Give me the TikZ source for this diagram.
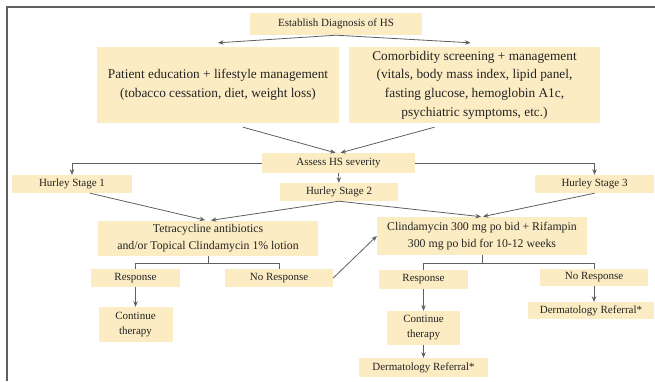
\documentclass[tikz,border=0pt]{standalone}
\usepackage{fontspec}
\setmainfont{Liberation Serif}
\usepackage{tikz}
\usetikzlibrary{arrows.meta}
\definecolor{boxfill}{RGB}{252,236,196}
\definecolor{linegray}{RGB}{95,95,95}
\definecolor{textgray}{RGB}{35,35,35}
\tikzset{
    box/.style={fill=boxfill, inner sep=0pt, align=center, text=textgray,
        font=\fontsize{11}{15}\selectfont},
    bigbox/.style={box, font=\fontsize{13.3}{18.7}\selectfont},
    midbox/.style={box, font=\fontsize{11.8}{17}\selectfont},
    link/.style={draw=linegray, line width=0.8pt},
    arr/.style={link, -{Stealth[length=5.5pt,width=4.5pt]}},
}

\begin{document}
\begin{tikzpicture}[x=1pt,y=-1pt]
\useasboundingbox (0,0) rectangle (655,381);
\draw[linegray, line width=1.2pt] (7,381) -- (7,7) -- (655,7);

\node[box, minimum width=172pt, minimum height=22pt] (diag) at (336,24) {Establish Diagnosis of HS};
\node[bigbox, minimum width=242pt, minimum height=76pt] (edu) at (218,85)
    {Patient education + lifestyle management\\(tobacco cessation, diet, weight loss)};
\node[bigbox, minimum width=251pt, minimum height=76pt] (comorb) at (474.5,85)
    {Comorbidity screening + management\\(vitals, body mass index, lipid panel,\\fasting glucose, hemoglobin A1c,\\psychiatric symptoms, etc.)};

\node[box, minimum width=153pt, minimum height=20pt] (assess) at (338.5,163) {Assess HS severity};
\node[box, minimum width=120pt, minimum height=18pt] (hur1) at (72,184) {Hurley Stage 1};
\node[box, minimum width=118pt, minimum height=18pt] (hur2) at (339,192) {Hurley Stage 2};
\node[box, minimum width=119pt, minimum height=18pt] (hur3) at (594.5,184) {Hurley Stage 3};

\node[midbox, minimum width=220pt, minimum height=35pt] (tetra) at (208,238.5)
    {Tetracycline antibiotics\\and/or Topical Clindamycin 1\% lotion};
\node[midbox, minimum width=210pt, minimum height=38pt] (clinda) at (482,236)
    {Clindamycin 300 mg po bid + Rifampin\\300 mg po bid for 10-12 weeks};

\node[box, minimum width=89pt, minimum height=18pt] (resp1) at (135.5,278) {Response};
\node[box, minimum width=108pt, minimum height=18pt] (noresp1) at (279,278) {No Response};
\node[box, minimum width=74pt, minimum height=35pt] (cont1) at (135.5,324.5) {Continue\\therapy};

\node[box, minimum width=89pt, minimum height=19pt] (resp2) at (423.5,279.5) {Response};
\node[box, minimum width=108pt, minimum height=17pt] (noresp2) at (594,277.5) {No Response};
\node[box, minimum width=73pt, minimum height=34pt] (cont2) at (423.5,328) {Continue\\therapy};
\node[box, minimum width=129pt, minimum height=19pt] (derm2) at (423.5,367.5) {Dermatology Referral*};
\node[box, minimum width=126pt, minimum height=17pt] (derm3) at (591,310.5) {Dermatology Referral*};

\draw[arr] (diag.south) -- ([yshift=4pt]edu.north);
\draw[arr] (diag.south) -- ([xshift=-4pt,yshift=4pt]comorb.north);
\draw[arr] ([xshift=25pt,yshift=-4pt]edu.south) -- ([xshift=-3pt]assess.north);
\draw[arr] ([xshift=-40pt,yshift=-4pt]comorb.south) -- ([xshift=2pt]assess.north);

\draw[arr] (assess.west) -| (hur1.north);
\draw[arr] (assess.east) -| (hur3.north);
\draw[arr] (assess.south) -- (hur2.north);

\draw[arr, shorten >=3pt] ([xshift=18pt]hur1.south) -- (tetra.north);
\draw[arr, shorten >=3pt] (hur2.south) -- (tetra.north);
\draw[arr, shorten >=1pt] (hur2.south) -- (clinda.north);
\draw[arr, shorten >=1pt] (hur3.south) -- (clinda.north);

\draw[link] (tetra.south) -- ++(0,7) coordinate (tbar);
\draw[link] (resp1.north) |- (tbar) -| (noresp1.north);
\draw[link] (clinda.south) -- ++(0,8) coordinate (cbar);
\draw[link] (resp2.north) |- (cbar) -| (noresp2.north);

\draw[arr] (noresp1.east) -- (clinda.west);
\draw[arr] (resp1.south) -- (cont1.north);
\draw[arr] (resp2.south) -- (cont2.north);
\draw[arr] (cont2.south) -- (derm2.north);
\draw[arr] (noresp2.south) -- (noresp2.south |- derm3.north);
\end{tikzpicture}
\end{document}
